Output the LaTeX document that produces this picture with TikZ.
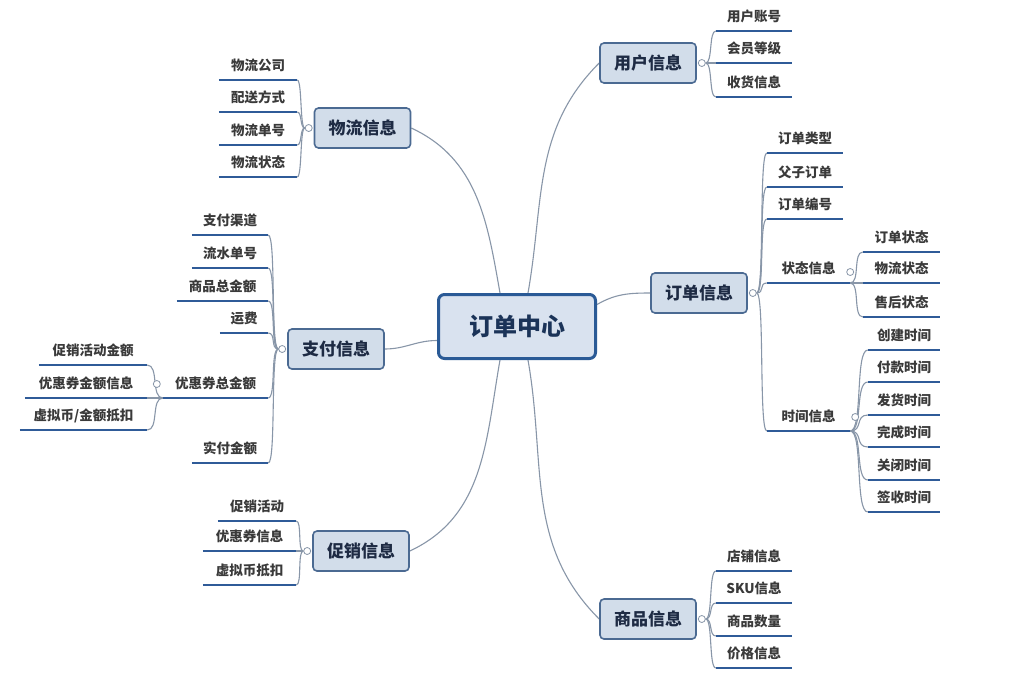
\documentclass[tikz,border=0pt]{standalone}
\usepackage{fontspec}
\setmainfont{Noto Sans CJK SC}
\usetikzlibrary{backgrounds}
\definecolor{cfill}{HTML}{D9E2EF}
\definecolor{cborder}{HTML}{2A5A96}
\definecolor{ctext}{HTML}{1B3358}
\definecolor{bfill}{HTML}{D2DDEA}
\definecolor{bborder}{HTML}{4B6A92}
\definecolor{btext}{HTML}{1E2B44}
\definecolor{ulinec}{HTML}{2F5B98}
\definecolor{connc}{HTML}{8896A8}
\definecolor{leaftext}{HTML}{3A3A3A}
\begin{document}
\begin{tikzpicture}[x=1pt,y=-1pt,
  centerbox/.style={draw=cborder, line width=3pt, fill=cfill, rounded corners=6pt,
    minimum width=157pt, minimum height=64pt, text=ctext,
    font=\fontsize{24}{26}\selectfont\bfseries},
  branch/.style={draw=bborder, line width=1.6pt, fill=bfill, rounded corners=4pt,
    minimum width=96pt, minimum height=40pt, text=btext,
    font=\fontsize{17}{19}\selectfont\bfseries},
  uline/.style={draw=ulinec, line width=2.4pt},
  leaf/.style={minimum width=#1pt, anchor=south, inner xsep=0pt, inner ysep=0pt,
    text height=12pt, text depth=9.5pt, text=leaftext,
    font=\fontsize{13.5}{15}\selectfont\bfseries,
    append after command={(\tikzlastnode.south west) edge[uline] (\tikzlastnode.south east)}},
  conn/.style={draw=connc, line width=1.1pt},
  dot/.style={circle, draw=connc, line width=0.8pt, fill=white, inner sep=0pt, minimum size=7pt}
]
\useasboundingbox (0,0) rectangle (1025,681);

% center
\node[centerbox] (c) at (517,326.5) {订单中心};

% branches
\node[branch] (bu) at (648,63) {用户信息};
\node[branch] (bw) at (362.5,128) {物流信息};
\node[branch] (bord) at (699,293) {订单信息};
\node[branch] (bp) at (336,349) {支付信息};
\node[branch] (bs) at (361,551) {促销信息};
\node[branch] (bg) at (648,619) {商品信息};

% leaves: user
\node[leaf=76] (u1) at (754,31) {用户账号};
\node[leaf=76] (u2) at (754,63) {会员等级};
\node[leaf=76] (u3) at (754,97) {收货信息};
% logistics
\node[leaf=78] (w1) at (258,80) {物流公司};
\node[leaf=78] (w2) at (258,112) {配送方式};
\node[leaf=78] (w3) at (258,145) {物流单号};
\node[leaf=78] (w4) at (258,177) {物流状态};
% order
\node[leaf=76] (o1) at (805,153) {订单类型};
\node[leaf=76] (o2) at (805,187) {父子订单};
\node[leaf=76] (o3) at (805,219) {订单编号};
\node[leaf=83] (o4) at (808.5,283) {状态信息};
\node[leaf=83] (o5) at (808.5,431) {时间信息};
% status
\node[leaf=77] (s1) at (901.5,252) {订单状态};
\node[leaf=77] (s2) at (901.5,283) {物流状态};
\node[leaf=77] (s3) at (901.5,317) {售后状态};
% time
\node[leaf=72] (t1) at (904,350) {创建时间};
\node[leaf=72] (t2) at (904,382) {付款时间};
\node[leaf=72] (t3) at (904,415) {发货时间};
\node[leaf=72] (t4) at (904,447) {完成时间};
\node[leaf=72] (t5) at (904,480) {关闭时间};
\node[leaf=72] (t6) at (904,512) {签收时间};
% payment
\node[leaf=76] (p1) at (230,235) {支付渠道};
\node[leaf=76] (p2) at (230,268) {流水单号};
\node[leaf=91] (p3) at (222.5,301) {商品总金额};
\node[leaf=48] (p4) at (244,333) {运费};
\node[leaf=105] (p5) at (215.5,398) {优惠券总金额};
\node[leaf=76] (p6) at (230,463) {实付金额};
% coupon total
\node[leaf=108] (q1) at (93,365) {促销活动金额};
\node[leaf=122] (q2) at (86,398) {优惠券金额信息};
\node[leaf=127] (q3) at (83.5,430) {虚拟币/金额抵扣};
% promotion
\node[leaf=78] (r1) at (257,521) {促销活动};
\node[leaf=93] (r2) at (249.5,551) {优惠券信息};
\node[leaf=93] (r3) at (249.5,585) {虚拟币抵扣};
% goods
\node[leaf=76] (g1) at (754,571) {店铺信息};
\node[leaf=76] (g2) at (754,603) {SKU信息};
\node[leaf=76] (g3) at (754,636) {商品数量};
\node[leaf=76] (g4) at (754,668) {价格信息};

% dots
\node[dot] (du) at ([xshift=5pt]bu.east) {};
\node[dot] (dw) at ([xshift=-5pt]bw.west) {};
\node[dot] (dord) at ([xshift=5pt]bord.east) {};
\node[dot] (dp) at ([xshift=-5pt]bp.west) {};
\node[dot] (ds) at ([xshift=-5pt]bs.west) {};
\node[dot] (dg) at ([xshift=5pt]bg.east) {};
\node[dot] (dst) at ([shift={(0pt,11pt)}]o4.south east) {};
\node[dot] (dti) at ([shift={(5pt,14pt)}]o5.south east) {};
\node[dot] (dq) at ([shift={(-6pt,14pt)}]p5.south west) {};

\begin{pgfonlayer}{background}
\fill[white] (0,0) rectangle (1025,681);
% main connectors
\draw[conn] ([xshift=-17pt]c.north) to[out=100,in=-25] (bw.east);
\draw[conn] ([xshift=11pt]c.north) to[out=80,in=225] (bu.west);
\draw[conn] ([yshift=22pt]c.east) to[out=30,in=180] (bord.west);
\draw[conn] ([yshift=-14pt]c.west) to[out=180,in=0] (bp.east);
\draw[conn] ([xshift=-17pt]c.south) to[out=260,in=25] (bs.east);
\draw[conn] ([xshift=11pt]c.south) to[out=280,in=135] (bg.west);
% groups
\foreach \n in {u1,u2,u3}
  \draw[conn] (du.east) .. controls +(7,0) and +(-7,0) .. (\n.south west);
\foreach \n in {w1,w2,w3,w4}
  \draw[conn] (dw.west) .. controls +(-5,0) and +(5,0) .. (\n.south east);
\foreach \n in {o1,o2,o3,o4,o5}
  \draw[conn] (dord.east) .. controls +(8,0) and +(-8,0) .. (\n.south west);
\foreach \n in {s1,s2,s3}
  \draw[conn] (o4.south east) .. controls +(10,0) and +(-10,0) .. (\n.south west);
\foreach \n in {t1,t2,t3,t4,t5,t6}
  \draw[conn] (o5.south east) .. controls +(13,0) and +(-13,0) .. (\n.south west);
\foreach \n in {p1,p2,p3,p4,p5,p6}
  \draw[conn] (dp.west) .. controls +(-8,0) and +(8,0) .. (\n.south east);
\foreach \n in {q1,q2,q3}
  \draw[conn] (p5.south west) .. controls +(-12,0) and +(12,0) .. (\n.south east);
\foreach \n in {r1,r2,r3}
  \draw[conn] (ds.west) .. controls +(-6,0) and +(6,0) .. (\n.south east);
\foreach \n in {g1,g2,g3,g4}
  \draw[conn] (dg.east) .. controls +(7,0) and +(-7,0) .. (\n.south west);
\end{pgfonlayer}
\end{tikzpicture}
\end{document}
